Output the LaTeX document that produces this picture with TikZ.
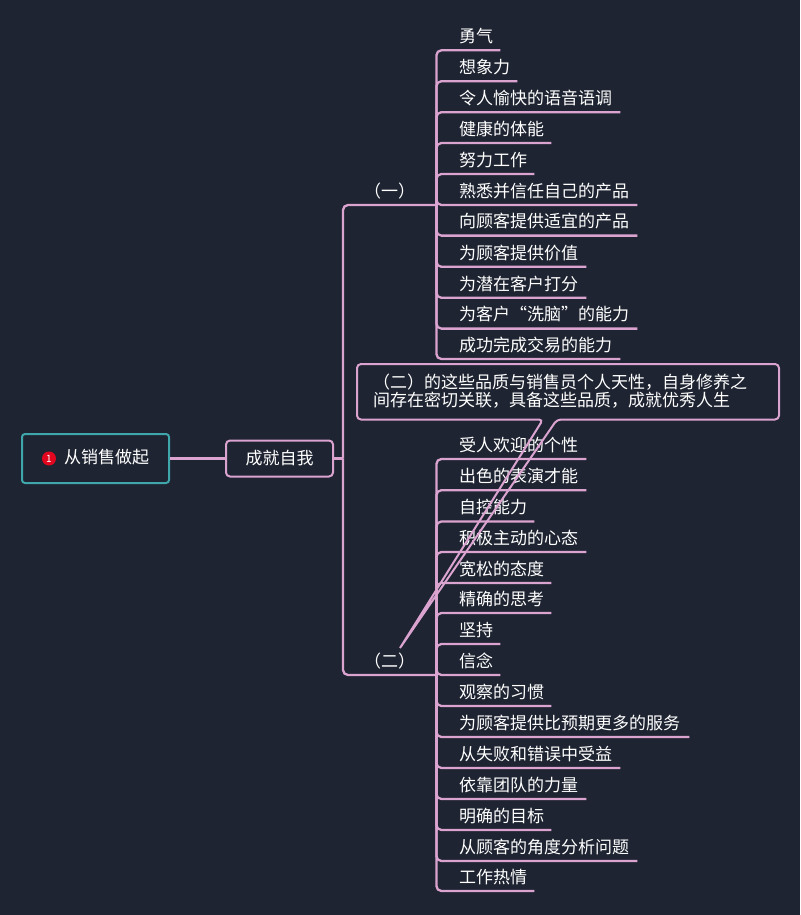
\documentclass[tikz,border=0pt]{standalone}
\usepackage{fontspec}
\setmainfont{Noto Sans CJK SC}
\definecolor{bgc}{HTML}{1E2431}
\definecolor{pinkc}{HTML}{DBA3D0}
\definecolor{tealc}{HTML}{3FA7AC}
\definecolor{redc}{HTML}{E2071F}
\tikzset{
  conn/.style={draw=pinkc,line width=2.3pt,rounded corners=5pt},
  txt/.style={text=white,font=\fontsize{17}{18}\selectfont,inner sep=0pt},
  topic/.style={txt,anchor=south west,align=left,text height=13pt,text depth=7.5pt},
  lab/.style={txt,anchor=south west,align=center,text height=13pt,text depth=7.5pt,minimum width=93pt},
  rootbox/.style={draw=tealc,line width=2pt,rounded corners=3pt,inner sep=0pt,minimum width=147pt,minimum height=49pt},
  subbox/.style={draw=pinkc,line width=2pt,rounded corners=4pt,txt,minimum width=107pt,minimum height=36pt},
  badge/.style={circle,fill=redc,text=white,inner sep=0pt,minimum size=14pt,font=\fontsize{10}{10}\selectfont}
}
\newcommand{\topicitem}[4]{%
  \pgfmathsetmacro{\itemw}{#3-459}%
  \node[topic,text width=\itemw pt] (#1) at (459,#2) {#4};
}
\begin{document}
\begin{tikzpicture}[x=1pt,y=-1pt]
\fill[bgc] (0,0) rectangle (800,915);
\useasboundingbox (0,0) rectangle (800,915);
% root and main branch
\node[rootbox] (root) at (95.5,458.5) {};
\node[badge] (mark) at (49,458.5) {1};
\node[txt,anchor=west] (rootlabel) at (64,457) {从销售做起};
\node[subbox] (sub) at (279.5,458.5) {成就自我};
\coordinate (junction) at (343,458.5);
\node[lab] (one) at (343,205) {（一）};
\node[lab] (two) at (343,675) {（二）};
\draw[conn] (root.east) -- (sub.west);
\draw[conn] (sub.east) -- (junction);
\draw[conn] (junction) |- (one.south east);
\draw[conn] (junction) |- (two.south east);
% group one
\topicitem{a1}{50.3}{500}{勇气}
\topicitem{a2}{81.2}{517}{想象力}
\topicitem{a3}{112.2}{620}{令人愉快的语音语调}
\topicitem{a4}{143}{551}{健康的体能}
\topicitem{a5}{174}{534}{努力工作}
\topicitem{a6}{205}{637}{熟悉并信任自己的产品}
\topicitem{a7}{235.6}{637}{向顾客提供适宜的产品}
\topicitem{a8}{266.8}{586}{为顾客提供价值}
\topicitem{a9}{297.8}{586}{为潜在客户打分}
\topicitem{a10}{328.6}{637}{为客户“洗脑”的能力}
\topicitem{a11}{359}{620}{成功完成交易的能力}
\foreach \n in {a1,a2,a3,a4,a5,a6,a7,a8,a9,a10,a11}
  \draw[conn] (one.south east) |- (\n.south east);
% group two
\topicitem{b1}{459}{586}{受人欢迎的个性}
\topicitem{b2}{490.2}{586}{出色的表演才能}
\topicitem{b3}{521.5}{534}{自控能力}
\topicitem{b4}{552}{586}{积极主动的心态}
\topicitem{b5}{583}{551}{宽松的态度}
\topicitem{b6}{613}{551}{精确的思考}
\topicitem{b7}{644}{500}{坚持}
\topicitem{b8}{675}{500}{信念}
\topicitem{b9}{706}{551}{观察的习惯}
\topicitem{b10}{737}{689}{为顾客提供比预期更多的服务}
\topicitem{b11}{768}{620}{从失败和错误中受益}
\topicitem{b12}{799}{586}{依靠团队的力量}
\topicitem{b13}{830}{551}{明确的目标}
\topicitem{b14}{861}{637}{从顾客的角度分析问题}
\topicitem{b15}{891}{534}{工作热情}
\foreach \n in {b1,b2,b3,b4,b5,b6,b7,b8,b9,b10,b11,b12,b13,b14,b15}
  \draw[conn] (two.south east) |- (\n.south east);
% callout
\coordinate (tip) at (400,648);
\draw[conn,line width=2pt,rounded corners=4pt] (tip) -- (543,419.5) -- (357,419.5) -- (357,364) -- (779,364) -- (779,419.5) -- (557,419.5) -- (tip);
\node[txt,anchor=west,align=left] (note) at (373,391) {（二）的这些品质与销售员个人天性，自身修养之\\间存在密切关联，具备这些品质，成就优秀人生};
\end{tikzpicture}
\end{document}
